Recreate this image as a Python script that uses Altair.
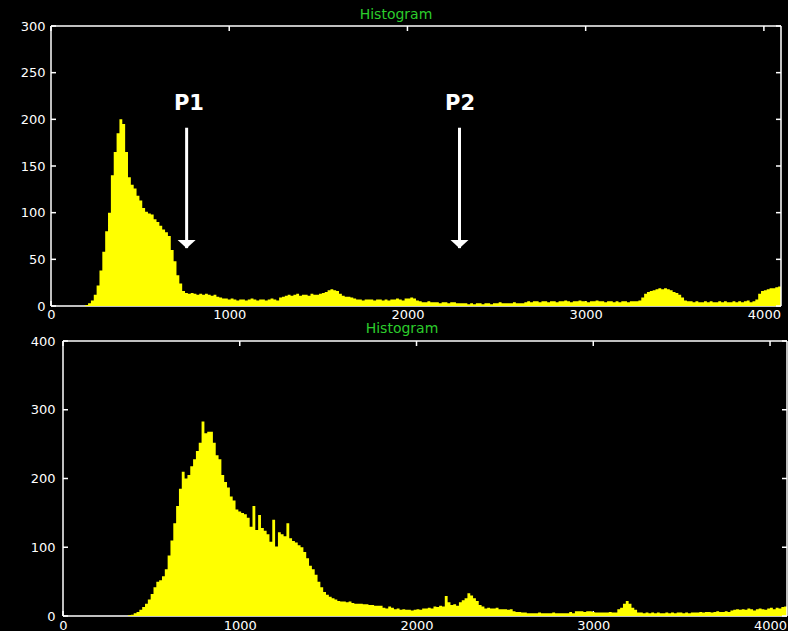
import altair as alt
import pandas as pd

BIN_WIDTH = 16
X_MAX = 4096

# ---- top histogram counts (bins of 16 grey levels, 0..4095) ----
top_counts = (
    [0, 0, 0, 0, 0, 0, 0, 0, 0, 0, 0, 0, 1, 3, 6, 12]
    + [22, 38, 58, 80, 100, 140, 165, 185, 200, 195, 165, 138, 130, 126, 118, 113]
    + [105, 101, 99, 98, 93, 90, 86, 82, 79, 75, 60, 48, 33, 24, 16, 14]
    + [13, 14, 13, 12, 13, 12, 13, 12, 11, 12, 10, 9, 8, 8, 7, 8]
    + [7, 6, 7, 7, 6, 7, 8, 7, 6, 7, 7, 6, 7, 8, 7, 6]
    + [9, 10, 11, 12, 11, 12, 13, 11, 12, 12, 11, 13, 12, 12, 13, 14]
    + [15, 17, 18, 17, 16, 13, 11, 10, 10, 9, 8, 7, 7, 6, 7, 7]
    + [7, 6, 7, 7, 6, 7, 6, 7, 7, 8, 7, 6, 8, 8, 9, 8]
    + [6, 5, 4, 4, 5, 4, 4, 4, 3, 4, 4, 3, 4, 4, 3, 3]
    + [3, 3, 2, 3, 2, 3, 3, 2, 3, 3, 2, 3, 3, 4, 3, 3]
    + [3, 3, 4, 3, 3, 3, 4, 5, 4, 5, 5, 4, 5, 5, 4, 5]
    + [5, 4, 5, 5, 6, 5, 4, 5, 5, 6, 5, 5, 4, 5, 5, 6]
    + [5, 5, 4, 5, 5, 4, 5, 4, 5, 5, 4, 5, 5, 5, 6, 9]
    + [13, 15, 16, 17, 18, 19, 18, 19, 18, 17, 15, 14, 12, 9, 6, 5]
    + [5, 4, 5, 4, 4, 5, 4, 5, 4, 4, 5, 4, 5, 4, 4, 5]
    + [4, 5, 4, 5, 6, 4, 5, 7, 13, 16, 17, 18, 19, 19, 20, 21]
)

# ---- bottom histogram counts ----
bottom_counts = (
    [0] * 16
    + [0, 0, 0, 0, 0, 0, 0, 1, 2, 4, 6, 9, 13, 18, 24, 32]
    + [42, 50, 52, 58, 68, 88, 110, 135, 160, 185, 210, 200, 205, 218, 228, 240]
    + [252, 283, 266, 268, 268, 252, 234, 228, 205, 195, 187, 174, 168, 155, 152, 150]
    + [148, 143, 130, 160, 125, 147, 128, 124, 119, 108, 140, 101, 122, 119, 116, 135]
    + [113, 109, 107, 103, 100, 93, 84, 73, 68, 60, 50, 42, 35, 31, 28, 26]
    + [24, 22, 21, 21, 20, 21, 19, 18, 18, 18, 17, 17, 16, 16, 15, 15]
    + [15, 12, 11, 14, 12, 10, 11, 9, 10, 9, 9, 8, 9, 10, 9, 11]
    + [11, 12, 11, 14, 13, 15, 14, 29, 20, 16, 17, 15, 20, 23, 26, 33]
    + [30, 26, 22, 16, 14, 11, 12, 11, 11, 12, 10, 10, 10, 9, 10, 7]
    + [6, 6, 5, 5, 4, 4, 4, 4, 5, 4, 4, 4, 4, 5, 4, 4]
    + [4, 4, 4, 6, 4, 7, 7, 7, 6, 7, 7, 6, 5, 5, 5, 5]
    + [5, 6, 5, 5, 10, 12, 18, 22, 18, 12, 9, 5, 5, 4, 5, 4]
    + [5, 4, 5, 4, 4, 5, 4, 5, 4, 5, 5, 4, 5, 4, 5, 5]
    + [5, 6, 5, 6, 6, 5, 6, 7, 6, 6, 7, 6, 8, 9, 10, 9]
    + [10, 9, 11, 10, 8, 10, 11, 10, 9, 11, 12, 10, 12, 11, 13, 14]
)

x_ticks = [0, 1000, 2000, 3000, 4000]
top_y_ticks = [0, 50, 100, 150, 200, 250, 300]
bottom_y_ticks = [0, 100, 200, 300, 400]

# annotations on the top panel
ann_labels = ["P1", "P2"]
ann_label_x = [774, 2295]
ann_label_y = [210, 210]
arrow_x = [761, 2292]
arrow_top = [191, 191]
arrow_tip = [62, 62]

TITLE = "Histogram"
GREEN = "#2ccc2c"
YELLOW = "#ffff00"
FONT = "DejaVu Sans"


def hist_df(counts):
    edges = [i * BIN_WIDTH for i in range(len(counts) + 1)]
    vals = counts + [counts[-1]]
    return pd.DataFrame({"x": edges, "count": vals})


def panel(counts, ymax, yticks, W, H, x0, lpad, xlpad, title_dx, title_offset,
          annotate=False):
    """x0 = left inset of the axes box inside the view (pixels)."""
    xs = alt.Scale(domain=[0, X_MAX], nice=False, zero=False, range=[x0, W])
    ys = alt.Scale(domain=[0, ymax], nice=False)
    xaxis = alt.Axis(values=x_ticks, title=None, format="d", labelPadding=xlpad)
    yaxis = alt.Axis(values=yticks, title=None, format="d", labelPadding=lpad,
                     offset=-x0, minExtent=51, maxExtent=51)

    def X(field):
        return alt.X(field, type="quantitative", scale=xs, axis=xaxis)

    def Y(field):
        return alt.Y(field, type="quantitative", scale=ys, axis=yaxis)

    xdf = pd.DataFrame({"x": x_ticks})
    ydf = pd.DataFrame({"count": yticks})
    one = pd.DataFrame({"k": [0]})
    rule = dict(color="white", strokeWidth=1.5)

    area = alt.Chart(hist_df(counts)).mark_area(
        interpolate="step-after", color=YELLOW, opacity=1
    ).encode(x=X("x"), y=Y("count"))

    # axes box
    box_l = alt.Chart(one).mark_rule(**rule).encode(
        x=alt.value(x0), y=alt.value(0), y2=alt.value(H))
    box_r = alt.Chart(one).mark_rule(**rule).encode(
        x=alt.value(W), y=alt.value(0), y2=alt.value(H))
    box_t = alt.Chart(one).mark_rule(**rule).encode(
        y=alt.value(0), x=alt.value(x0), x2=alt.value(W))
    box_b = alt.Chart(one).mark_rule(**rule).encode(
        y=alt.value(H), x=alt.value(x0), x2=alt.value(W))

    # inward tick marks
    left_t = alt.Chart(ydf).mark_rule(**rule).encode(
        y=Y("count"), x=alt.value(x0), x2=alt.value(x0 + 5))
    right_t = alt.Chart(ydf).mark_rule(**rule).encode(
        y=Y("count"), x=alt.value(W - 5), x2=alt.value(W))
    top_t = alt.Chart(xdf).mark_rule(**rule).encode(
        x=X("x"), y=alt.value(0), y2=alt.value(5))
    bot_t = alt.Chart(xdf).mark_rule(**rule).encode(
        x=X("x"), y=alt.value(H - 5), y2=alt.value(H))

    layers = [bot_t, box_b, area, box_l, box_r, box_t, left_t, right_t, top_t]

    if annotate:
        ann_df = pd.DataFrame({"label": ann_labels, "x": ann_label_x, "count": ann_label_y})
        arr_df = pd.DataFrame({"x": arrow_x, "count": arrow_top, "tip": arrow_tip})
        head_df = pd.DataFrame({"x": arrow_x, "count": arrow_tip})
        ann_text = alt.Chart(ann_df).mark_text(
            font=FONT, fontSize=21, fontWeight="bold", color="white",
            baseline="alphabetic", align="center"
        ).encode(x=X("x"), y=Y("count"), text="label:N")
        ann_line = alt.Chart(arr_df).mark_rule(color="white", strokeWidth=3).encode(
            x=X("x"), y=Y("count"), y2="tip:Q")
        ann_head = alt.Chart(head_df).mark_point(
            shape="M-1,-0.9L1,-0.9L0,0Z", filled=True, size=324, color="white",
            opacity=1, strokeWidth=0
        ).encode(x=X("x"), y=Y("count"))
        layers += [ann_line, ann_head, ann_text]

    return alt.layer(*layers).properties(
        width=W, height=H,
        title=alt.TitleParams(TITLE, color=GREEN, font=FONT, fontSize=14,
                              fontWeight="normal", anchor="middle", dx=title_dx,
                              offset=title_offset),
    )


top_panel = panel(top_counts, 300, top_y_ticks, 730, 280, 0, 6, 2, -20, -2,
                  annotate=True)
bottom_panel = panel(bottom_counts, 400, bottom_y_ticks, 736, 275, 12, 8, 3, -17, -1)

chart = alt.ConcatChart(
    concat=[top_panel, bottom_panel], columns=1, bounds="full", spacing=1,
).properties(
    background="black",
    padding={"left": 0, "top": 8, "right": 0, "bottom": 0},
).configure_view(
    stroke="transparent", strokeWidth=0, fill="black"
).configure_axis(
    labelColor="white", labelFont=FONT, labelFontSize=13, domain=False, ticks=False,
    tickSize=0, grid=False, labelFlush=False,
)

chart.save("out.html", embed_options={"renderer": "svg", "actions": False})
